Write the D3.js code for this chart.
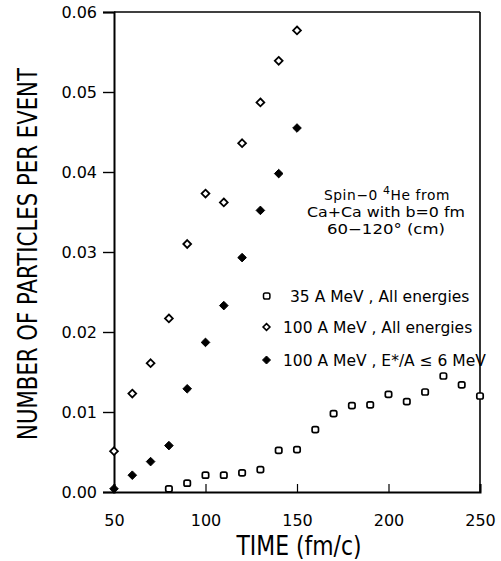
<!DOCTYPE html>
<html>
<head>
<meta charset="utf-8">
<script src="https://cdn.jsdelivr.net/npm/d3@7"></script>
<style>
  html, body { margin: 0; padding: 0; background: #fff; }
  svg { display: block; }
  text { font-family: "DejaVu Sans", sans-serif; fill: #000; }
</style>
</head>
<body>
<svg id="chart" width="501" height="561"></svg>
<script>
// Time axis (fm/c)
const times35 = [80, 90, 100, 110, 120, 130, 140, 150, 160, 170, 180, 190, 200, 210, 220, 230, 240, 250];
const times100 = [50, 60, 70, 80, 90, 100, 110, 120, 130, 140, 150];

// Number of spin-0 4He particles per event
const values35All = [0.0004, 0.0011, 0.0021, 0.0021, 0.0024, 0.0028, 0.0052, 0.0053, 0.0078, 0.0098,
                     0.0108, 0.0109, 0.0122, 0.0113, 0.0125, 0.0145, 0.0134, 0.0120];
const values100All = [0.0051, 0.0123, 0.0161, 0.0217, 0.0310, 0.0373, 0.0362, 0.0436, 0.0487, 0.0539, 0.0577];
const values100Cut = [0.0004, 0.0021, 0.0038, 0.0058, 0.0129, 0.0187, 0.0233, 0.0293, 0.0352, 0.0398, 0.0455];

const xTicks = [50, 100, 150, 200, 250];
const yTicks = [0, 0.01, 0.02, 0.03, 0.04, 0.05, 0.06];

const legendLabels = ["35 A MeV , All energies", "100 A MeV , All energies", "100 A MeV , E*/A \u2264 6 MeV"];

const svg = d3.select("#chart");

const x = d3.scaleLinear().domain([50, 250]).range([114, 480]);
const y = d3.scaleLinear().domain([0, 0.06]).range([492, 12]);

// Frame (top and right)
svg.append("line").attr("x1", x(50)).attr("x2", x(250)).attr("y1", y(0.06)).attr("y2", y(0.06))
  .attr("stroke", "#000").attr("stroke-width", 1.6);
svg.append("line").attr("x1", x(250)).attr("x2", x(250)).attr("y1", y(0.06)).attr("y2", y(0))
  .attr("stroke", "#000").attr("stroke-width", 1.6);

// Bottom axis: ticks point inward
const xAxis = svg.append("g").attr("transform", `translate(0,${y(0)})`)
  .call(d3.axisBottom(x).tickValues(xTicks).tickSize(-8).tickPadding(23).tickFormat(d3.format("d")));
xAxis.select(".domain").attr("stroke-width", 2);
xAxis.selectAll(".tick line").attr("stroke-width", 1.2);
xAxis.selectAll("text").attr("font-size", 16).attr("font-family", "DejaVu Sans").attr("fill", "#000");

// Left axis: ticks point outward
const yAxis = svg.append("g").attr("transform", `translate(${x(50)},0)`)
  .call(d3.axisLeft(y).tickValues(yTicks).tickSize(11).tickPadding(6).tickFormat(d3.format(".2f")));
yAxis.select(".domain").attr("stroke-width", 2);
yAxis.selectAll(".tick line").attr("stroke-width", 1.4);
yAxis.selectAll("text").attr("font-size", 16).attr("font-family", "DejaVu Sans").attr("fill", "#000");

// Axis titles (narrow, tall lettering)
svg.append("text").attr("transform", "translate(299,555) scale(1,1.4)").attr("text-anchor", "middle")
  .attr("font-size", 19.5).attr("textLength", 125).attr("lengthAdjust", "spacingAndGlyphs")
  .text("TIME (fm/c)");
svg.append("text").attr("transform", "translate(37,254) rotate(-90) scale(1,1.4)").attr("text-anchor", "middle")
  .attr("font-size", 19).attr("textLength", 372).attr("lengthAdjust", "spacingAndGlyphs")
  .text("NUMBER OF PARTICLES PER EVENT");

// Marker shapes
const diamond = s => `M0,${-s}L${s},0L0,${s}L${-s},0Z`;

function drawSquares(g, xs, ys) {
  g.selectAll("rect").data(xs.map((t, i) => [t, ys[i]])).join("rect")
    .attr("x", d => x(d[0]) - 3.2).attr("y", d => y(d[1]) - 3)
    .attr("width", 6.4).attr("height", 6).attr("rx", 1.8)
    .attr("fill", "#fff").attr("stroke", "#000").attr("stroke-width", 1.7);
}
function drawDiamonds(g, xs, ys, filled) {
  g.selectAll("path").data(xs.map((t, i) => [t, ys[i]])).join("path")
    .attr("transform", d => `translate(${x(d[0])},${y(d[1])})`)
    .attr("d", diamond(filled ? 4.3 : 3.9))
    .attr("fill", filled ? "#000" : "#fff").attr("stroke", "#000")
    .attr("stroke-width", filled ? 1 : 1.8);
}

drawSquares(svg.append("g"), times35, values35All);
drawDiamonds(svg.append("g"), times100, values100All, false);
drawDiamonds(svg.append("g"), times100, values100Cut, true);

// Annotation
const note = svg.append("g").attr("font-size", 13.8).attr("text-anchor", "middle");
const l1 = note.append("text").attr("x", 387).attr("y", 200).attr("letter-spacing", 0.6);
l1.append("tspan").text("Spin\u22120 ");
l1.append("tspan").attr("font-size", 11).attr("dy", -6).text("4");
l1.append("tspan").attr("dy", 6).text("He from");
note.append("text").attr("x", 386).attr("y", 217).attr("textLength", 158).attr("lengthAdjust", "spacingAndGlyphs")
  .text("Ca+Ca with b=0 fm");
note.append("text").attr("x", 386).attr("y", 234).attr("textLength", 118).attr("lengthAdjust", "spacingAndGlyphs")
  .text("60\u2212120\u00b0 (cm)");

// Legend
const legendY = [296, 327, 360];
const legendX = [290, 283, 283];
const leg = svg.append("g");
leg.append("rect").attr("x", 263.5).attr("y", legendY[0] - 3).attr("width", 6.4).attr("height", 6).attr("rx", 1.8)
  .attr("fill", "#fff").attr("stroke", "#000").attr("stroke-width", 1.5);
leg.append("path").attr("transform", `translate(266.5,${legendY[1]})`).attr("d", diamond(3.4))
  .attr("fill", "#fff").attr("stroke", "#000").attr("stroke-width", 1.6);
leg.append("path").attr("transform", `translate(266.5,${legendY[2]})`).attr("d", diamond(4))
  .attr("fill", "#000").attr("stroke", "#000").attr("stroke-width", 1);
legendLabels.forEach((s, i) => {
  leg.append("text").attr("x", legendX[i]).attr("y", legendY[i] + 6).attr("font-size", 15.5).text(s);
});
</script>
</body>
</html>
